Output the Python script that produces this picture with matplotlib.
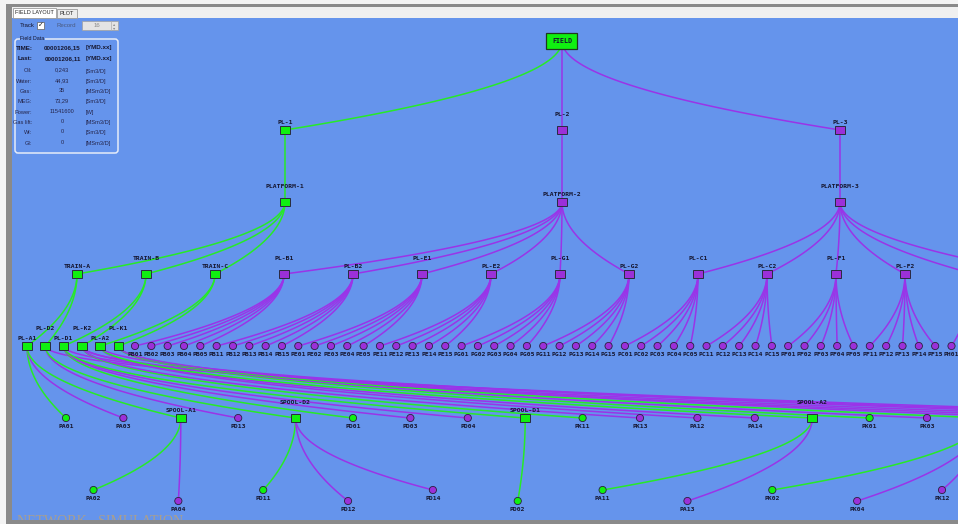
import numpy as np
import matplotlib.pyplot as plt
from matplotlib.patches import Rectangle, Circle, FancyBboxPatch

# ---------------- field data panel ----------------
time_keys = ["TIME:", "Last:"]
time_values = ["00001206,15", "00001206,11"]
time_units = ["[YMD.xx]", "[YMD.xx]"]
field_keys = ["Oil:", "Water:", "Gas:", "MEG:", "Power:", "Gas lift:", "Wi:", "GI:"]
field_values = ["0,243", "44,93", "35", "73,29", "11541600", "0", "0", "0"]
field_units = ["[Sm3/D]", "[Sm3/D]", "[MSm3/D]", "[Sm3/D]", "[W]",
               "[MSm3/D]", "[Sm3/D]", "[MSm3/D]"]
record_value = "16"
tab_names = ["FIELD LAYOUT", "PLOT"]

# ---------------- network nodes ----------------
field_node = ["FIELD"]
pipeline_nodes = ["PL-1", "PL-2", "PL-3"]
platform_nodes = ["PLATFORM-1", "PLATFORM-2", "PLATFORM-3"]
manifold_nodes = ["TRAIN-A", "TRAIN-B", "TRAIN-C", "PL-B1", "PL-B2", "PL-E1",
                  "PL-E2", "PL-G1", "PL-G2", "PL-C1", "PL-C2", "PL-F1", "PL-F2",
                  "PL-H1", "PL-H2"]
gathering_nodes = ["PL-A1", "PL-D2", "PL-D1", "PL-K2", "PL-A2", "PL-K1"]
well_groups = ["PB", "PE", "PG", "PC", "PF", "PH"]
well_suffix = ["01", "02", "03", "04", "05", "11", "12", "13", "14", "15"]
subsea_nodes = ["PA01", "PA03", "SPOOL-A1", "PD13", "SPOOL-D2", "PD01", "PD03",
                "PD04", "SPOOL-D1", "PK11", "PK13", "PA12", "PA14", "SPOOL-A2",
                "PK01", "PK03", "SPOOL-K1", "PK05", "PK14", "PK15", "PA15",
                "PD05", "PD15"]
spool_wells = ["PA02", "PA04", "PD11", "PD12", "PD14", "PD02", "PA11", "PA13",
               "PK02", "PK04", "PK12"]

# nodes currently flowing (drawn green), the rest are shut in (purple)
active_nodes = ["FIELD", "PL-1", "PLATFORM-1", "TRAIN-A", "TRAIN-B", "TRAIN-C",
                "PL-A1", "PL-D2", "PL-D1", "PL-K2", "PL-A2", "PL-K1",
                "PA01", "SPOOL-A1", "SPOOL-D2", "PD01", "SPOOL-D1", "PK11",
                "SPOOL-A2", "PK01", "SPOOL-K1", "PA02", "PD11", "PD02", "PA11",
                "PK02"]

well_rows = [g + s for g in well_groups for s in well_suffix]
wells = set(well_rows + spool_wells +
            [n for n in subsea_nodes if not n.startswith("SPOOL")])

edges = {
    "FIELD": pipeline_nodes,
    "PL-1": ["PLATFORM-1"],
    "PL-2": ["PLATFORM-2"],
    "PL-3": ["PLATFORM-3"],
    "PLATFORM-1": ["TRAIN-A", "TRAIN-B", "TRAIN-C"],
    "PLATFORM-2": ["PL-B1", "PL-B2", "PL-E1", "PL-E2", "PL-G1", "PL-G2"],
    "PLATFORM-3": ["PL-C1", "PL-C2", "PL-F1", "PL-F2", "PL-H1", "PL-H2"],
    "TRAIN-A": ["PL-A1", "PL-D2"],
    "TRAIN-B": ["PL-D1", "PL-K2"],
    "TRAIN-C": ["PL-A2", "PL-K1"],
    "PL-A1": ["PA01", "PA03", "SPOOL-A1"],
    "PL-D2": ["PD13", "SPOOL-D2", "PD15"],
    "PL-D1": ["PD01", "PD03", "PD04", "SPOOL-D1", "PD05"],
    "PL-K2": ["PK11", "PK13", "PK14", "PK15"],
    "PL-A2": ["PA12", "PA14", "SPOOL-A2", "PA15"],
    "PL-K1": ["PK01", "PK03", "SPOOL-K1", "PK05"],
    "SPOOL-A1": ["PA02", "PA04"],
    "SPOOL-D2": ["PD11", "PD12", "PD14"],
    "SPOOL-D1": ["PD02"],
    "SPOOL-A2": ["PA11", "PA13"],
    "SPOOL-K1": ["PK02", "PK04", "PK12"],
}
for g in well_groups:
    edges["PL-" + g[1] + "1"] = [g + s for s in well_suffix[:5]]
    edges["PL-" + g[1] + "2"] = [g + s for s in well_suffix[5:]]

# ---------------- layout (screen pixels) ----------------
pos = {"FIELD": (562, 41)}
label_dy = {}
for i, n in enumerate(pipeline_nodes):
    pos[n] = ([285, 562, 840][i], 130)
    label_dy[n] = [8, 16, 8][i]
for i, n in enumerate(platform_nodes):
    pos[n] = ([285, 562, 840][i], 202)
    label_dy[n] = [16, 8, 16][i]
for i, n in enumerate(manifold_nodes):
    pos[n] = (77 + 69.0 * i, 274)
    label_dy[n] = 8 if i % 2 == 0 else 16
for i, n in enumerate(gathering_nodes):
    pos[n] = (27 + 18.3 * i, 346)
    label_dy[n] = 8 if i % 2 == 0 else 17
for i, n in enumerate(well_rows):
    pos[n] = (135 + 16.33 * i, 346)
spool_count = 0
for i, n in enumerate(subsea_nodes):
    pos[n] = (66 + 57.4 * i, 418)
    if n.startswith("SPOOL"):
        label_dy[n] = 8 if spool_count % 2 == 0 else 16
        spool_count += 1
for i, n in enumerate(spool_wells):
    pos[n] = (93.5 + 84.85 * i, 490 if i % 2 == 0 else 501)

GREEN_EDGE = "#27ea27"
PURPLE_EDGE = "#9a34e8"
GREEN_FILL = "#10f010"
PURPLE_FILL = "#9b30d8"
CANVAS = "#6594ec"
TXT = "#15152e"

fig = plt.figure(figsize=(9.58, 5.24), dpi=100)
ax = fig.add_axes([0, 0, 1, 1])
ax.set_xlim(0, 958)
ax.set_ylim(524, 0)
ax.axis("off")

# window chrome
ax.add_patch(Rectangle((0, 0), 958, 524, fc="#f4f4f4", ec="none", zorder=0))
ax.add_patch(Rectangle((6, 4), 952, 520, fc="#8a8a8a", ec="none", zorder=0))
ax.add_patch(Rectangle((12, 7), 946, 11, fc="#f0f0f0", ec="none", zorder=0))
ax.add_patch(Rectangle((12, 18), 946, 502, fc=CANVAS, ec="none", zorder=0))

# edges as quadratic curves leaving the parent downward
tt = np.linspace(0, 1, 60)[:, None]
for parent, children in edges.items():
    x0, y0 = pos[parent]
    for child in children:
        x1, y1 = pos[child]
        p0 = np.array([x0, y0])
        p1 = np.array([x0, y0 + 0.5 * (y1 - y0)])
        p2 = np.array([x1, y1])
        curve = (1 - tt) ** 2 * p0 + 2 * tt * (1 - tt) * p1 + tt ** 2 * p2
        col = GREEN_EDGE if child in active_nodes else PURPLE_EDGE
        ax.plot(curve[:, 0], curve[:, 1], color=col, lw=1.1, zorder=2,
                solid_capstyle="round")

# nodes
for name, (x, y) in pos.items():
    on = name in active_nodes
    fill = GREEN_FILL if on else PURPLE_FILL
    show_label = x < 958
    if name == "FIELD":
        ax.add_patch(Rectangle((x - 15.5, y - 8), 31, 16, fc=fill, ec="#1f3a1f",
                               lw=0.9, zorder=3))
        ax.text(x, y, name, ha="center", va="center", fontsize=4.8,
                fontweight="bold", family="DejaVu Sans Mono", color=TXT, zorder=4)
    elif name in wells:
        ax.add_patch(Circle((x, y), 3.6, fc=fill, ec="#2a2040", lw=0.6, zorder=3))
        if show_label:
            ax.text(x, y + 8.5, name, ha="center", va="center", fontsize=4.6,
                    fontweight="bold", family="DejaVu Sans Mono", color=TXT,
                    zorder=4, clip_on=True)
    else:
        ax.add_patch(Rectangle((x - 4.8, y - 4), 9.6, 8, fc=fill, ec="#2a2a40",
                               lw=0.7, zorder=3))
        if show_label:
            ax.text(x, y - label_dy.get(name, 8), name, ha="center", va="center",
                    fontsize=4.6, fontweight="bold", family="DejaVu Sans Mono",
                    color=TXT, zorder=4, clip_on=True)

# faint watermark at the bottom
ax.text(17, 515, "NETWORK - SIMULATION", ha="left", va="top", fontsize=10,
        family="Liberation Serif", color="#d8a64e", alpha=0.6, zorder=1)
ax.add_patch(Rectangle((6, 520), 952, 4, fc="#8a8a8a", ec="none", zorder=6))

# tabs
ax.add_patch(Rectangle((13, 8), 43, 10, fc="#ffffff", ec="#9a9a9a", lw=0.6, zorder=6))
ax.add_patch(Rectangle((57, 9), 20, 9, fc="#ececec", ec="#9a9a9a", lw=0.6, zorder=6))
ax.text(34.5, 13, tab_names[0], ha="center", va="center", fontsize=4.0,
        family="Liberation Sans", color="#202020", zorder=7)
ax.text(67, 13.5, tab_names[1], ha="center", va="center", fontsize=4.0,
        family="Liberation Sans", color="#202020", zorder=7)

# track / record row
ax.text(20, 25.5, "Track", ha="left", va="center", fontsize=4.4,
        family="Liberation Sans", color=TXT, zorder=7)
ax.add_patch(Rectangle((37.5, 22), 7, 7, fc="#ffffff", ec="#606060", lw=0.5, zorder=7))
ax.text(41, 25.5, "\u2713", ha="center", va="center", fontsize=5, color="#202020",
        zorder=8)
ax.text(57, 25.5, "Record", ha="left", va="center", fontsize=4.4,
        family="Liberation Sans", color="#4a5a80", zorder=7)
ax.add_patch(Rectangle((82, 21), 36, 9, fc="#e4e4e4", ec="#a0a0a0", lw=0.5, zorder=7))
ax.plot([111, 111], [21, 30], color="#b0b0b0", lw=0.5, zorder=8)
ax.text(97, 25.5, record_value, ha="center", va="center", fontsize=4.4,
        family="Liberation Sans", color="#8a8a8a", zorder=8)
ax.text(114.5, 23.6, "\u25b4", ha="center", va="center", fontsize=3.2,
        color="#8a8a8a", zorder=8)
ax.text(114.5, 27.6, "\u25be", ha="center", va="center", fontsize=3.2,
        color="#8a8a8a", zorder=8)

# field data group box
ax.add_patch(FancyBboxPatch((15, 39), 103, 114, boxstyle="round,pad=0,rounding_size=3",
                            fc="none", ec="#e6ecf8", lw=1.1, zorder=7))
ax.text(20, 38.5, "Field Data", ha="left", va="center", fontsize=3.8,
        family="Liberation Sans", color=TXT, zorder=8,
        bbox=dict(fc=CANVAS, ec="none", pad=0.3))

row_y = [48, 58.5]
for k, v, u, y in zip(time_keys, time_values, time_units, row_y):
    ax.text(33, y, k, ha="right", va="center", fontsize=4.5, fontweight="bold",
            family="Liberation Sans", color=TXT, zorder=8)
    ax.text(62.5, y, v, ha="center", va="center", fontsize=4.5, fontweight="bold",
            family="Liberation Sans", color=TXT, zorder=8)
    ax.text(86, y, u, ha="left", va="center", fontsize=4.5, fontweight="bold",
            family="Liberation Sans", color=TXT, zorder=8)
for i, (k, v, u) in enumerate(zip(field_keys, field_values, field_units)):
    y = 71 + 10.3 * i
    ax.text(32, y, k, ha="right", va="center", fontsize=4.1,
            family="Liberation Sans", color="#24244a", zorder=8)
    ax.text(62, y - 1, v, ha="center", va="center", fontsize=4.1,
            family="Liberation Sans", color="#24244a", zorder=8)
    ax.text(86, y, u, ha="left", va="center", fontsize=4.1,
            family="Liberation Sans", color="#24244a", zorder=8)

fig.savefig("out.png", dpi=100)
